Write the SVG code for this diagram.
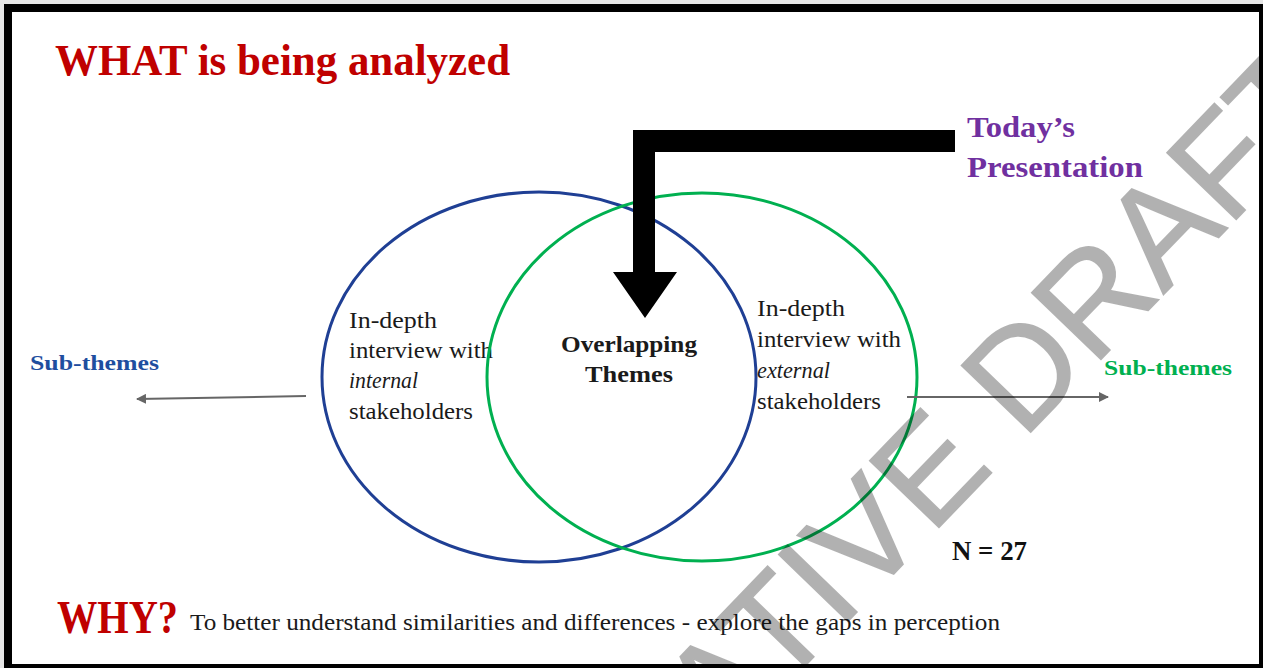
<svg xmlns="http://www.w3.org/2000/svg" width="1263" height="668" viewBox="0 0 1263 668">
<defs>
<style>
.serif{font-family:"Liberation Serif","Times New Roman",serif;}
.body{font-family:"Liberation Serif","Times New Roman",serif;font-size:24px;fill:#1a1a1a;}
.bold{font-weight:bold;}
.conn{stroke:#666;stroke-width:2;fill:none;}
.wm{font-family:"Liberation Sans",Arial,sans-serif;font-size:140px;fill:#000;stroke:#000;stroke-width:1.5;}
</style>
<marker id="ah" viewBox="0 0 10 10" refX="9" refY="5" markerWidth="5" markerHeight="5" orient="auto" markerUnits="strokeWidth">
<path d="M0,0 L10,5 L0,10 z" fill="#666"/>
</marker>
</defs>
<rect x="0" y="0" width="1263" height="668" fill="#e6e6e6"/>
<rect x="4" y="4" width="1259" height="664" fill="#fff"/>
<g id="frame" fill="#000">
<rect x="4" y="4" width="1259" height="8"/>
<rect x="4" y="4" width="8" height="664"/>
<rect x="1259" y="4" width="4" height="664"/>
<rect x="4" y="664" width="1259" height="4"/>
</g>
<g id="title">
<text class="serif bold" x="55" y="75" font-size="44" fill="#c00000" textLength="455" lengthAdjust="spacingAndGlyphs">WHAT is being analyzed</text>
</g>
<g id="internal-circle">
<ellipse cx="539" cy="377" rx="217" ry="185" fill="none" stroke="#1f3f94" stroke-width="3"/>
<text class="body" x="349" y="328" textLength="88" lengthAdjust="spacingAndGlyphs">In-depth</text>
<text class="body" x="349" y="358" textLength="144" lengthAdjust="spacingAndGlyphs">interview with</text>
<text class="body" x="349" y="388" font-style="italic" textLength="69" lengthAdjust="spacingAndGlyphs">internal</text>
<text class="body" x="349" y="419" textLength="124" lengthAdjust="spacingAndGlyphs">stakeholders</text>
</g>
<g id="external-circle">
<ellipse cx="702" cy="377" rx="215" ry="184" fill="none" stroke="#00b050" stroke-width="3"/>
<text class="body" x="757" y="316" textLength="88" lengthAdjust="spacingAndGlyphs">In-depth</text>
<text class="body" x="757" y="347" textLength="144" lengthAdjust="spacingAndGlyphs">interview with</text>
<text class="body" x="757" y="378" font-style="italic" textLength="73" lengthAdjust="spacingAndGlyphs">external</text>
<text class="body" x="757" y="409" textLength="124" lengthAdjust="spacingAndGlyphs">stakeholders</text>
</g>
<g id="overlap">
<text class="body bold" x="561" y="352" textLength="136" lengthAdjust="spacingAndGlyphs">Overlapping</text>
<text class="body bold" x="585" y="382" textLength="88" lengthAdjust="spacingAndGlyphs">Themes</text>
</g>
<g id="sub-left">
<text class="serif bold" x="30" y="370" font-size="22" fill="#1f4e9f" textLength="129" lengthAdjust="spacingAndGlyphs">Sub-themes</text>
</g>
<g id="sub-right">
<text class="serif bold" x="1104" y="375" font-size="22" fill="#00b050" textLength="128" lengthAdjust="spacingAndGlyphs">Sub-themes</text>
</g>
<g id="today">
<text class="serif bold" x="967" y="137" font-size="29" fill="#7030a0" textLength="108" lengthAdjust="spacingAndGlyphs">Today’s</text>
<text class="serif bold" x="967" y="177" font-size="29" fill="#7030a0" textLength="176" lengthAdjust="spacingAndGlyphs">Presentation</text>
</g>
<g id="n27">
<text class="serif bold" x="952" y="560" font-size="27" fill="#111" textLength="75" lengthAdjust="spacingAndGlyphs">N = 27</text>
</g>
<g id="why">
<text class="serif bold" x="57" y="633" font-size="46" fill="#c00000" textLength="121" lengthAdjust="spacingAndGlyphs">WHY?</text>
<text class="body" x="190" y="630" textLength="810" lengthAdjust="spacingAndGlyphs">To better understand similarities and differences - explore the gaps in perception</text>
</g>
<g id="connectors">
<path d="M633,130 H955 V152 H655 V272 H677 L645,318 L613,272 H633 Z" fill="#000"/>
<line class="conn" x1="306" y1="396" x2="137" y2="399" marker-end="url(#ah)"/>
<line class="conn" x1="907" y1="397" x2="1108" y2="397" marker-end="url(#ah)"/>
</g>
<g id="watermark" opacity="0.3">
<text class="wm" transform="translate(722,752) rotate(-46)">ATIVE DRAFT</text>
</g>
</svg>
